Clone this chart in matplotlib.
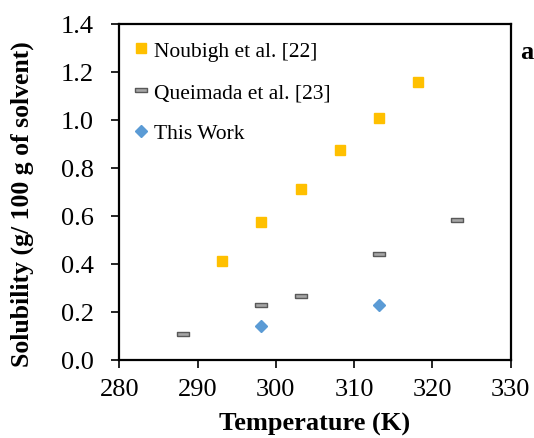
import numpy as np
import matplotlib.pyplot as plt

plt.rcParams['font.family'] = ['Liberation Serif', 'DejaVu Serif']

# Noubigh et al. [22]
noubigh_T = [293.15, 298.15, 303.15, 308.15, 313.15, 318.15]
noubigh_S = [0.413, 0.575, 0.712, 0.875, 1.008, 1.158]

# Queimada et al. [23]
queimada_T = [288.15, 298.15, 303.15, 313.15, 323.15]
queimada_S = [0.107, 0.226, 0.267, 0.440, 0.584]

# This Work
this_T = [298.15, 313.15]
this_S = [0.142, 0.228]

fig = plt.figure(figsize=(5.34, 4.39), dpi=100)
ax = fig.add_axes([0.2234, 0.1784, 0.733, 0.7647])

# flat dash marker, like the excel one
dash = [(-1, -0.32), (1, -0.32), (1, 0.32), (-1, 0.32), (-1, -0.32)]

ax.plot(noubigh_T, noubigh_S, ls='none', marker='s', ms=7.6,
        mfc='#ffc000', mec='#ffc000', label='Noubigh et al. [22]')
ax.plot(queimada_T, queimada_S, ls='none', marker=dash, ms=9,
        mfc='#a6a6a6', mec='#595959', mew=1.0, label='Queimada et al. [23]')
ax.plot(this_T, this_S, ls='none', marker='D', ms=6.2,
        mfc='#5b9bd5', mec='#5b9bd5', label='This Work')

ax.set_xlim(280, 330)
ax.set_ylim(0, 1.4)
ax.set_xticks(np.arange(280, 331, 10))
ax.set_yticks(np.arange(0, 1.41, 0.2))
ax.set_yticklabels([f'{v:.1f}' for v in np.arange(0, 1.41, 0.2)])

for s in ax.spines.values():
    s.set_linewidth(1.6)
ax.tick_params(direction='out', length=5.5, width=1.2, labelsize=19)
ax.tick_params(axis='x', pad=8)
ax.tick_params(axis='y', pad=13)

ax.set_xlabel('Temperature (K)', fontsize=19, fontweight='bold', labelpad=8)
ax.set_ylabel('Solubility (g/ 100 g of solvent)', fontsize=18.5, fontweight='bold')
ax.yaxis.set_label_coords(-0.217, 0.467)

ax.legend(loc='upper left', bbox_to_anchor=(0.0, 0.988), frameon=False,
          fontsize=15.5, handlelength=0.8, handletextpad=0.2,
          labelspacing=0.98, borderaxespad=0.3, borderpad=0.3)

fig.text(0.999, 0.88, 'a', fontsize=19, fontweight='bold', ha='right', va='center')

fig.savefig('out.png', dpi=100)
